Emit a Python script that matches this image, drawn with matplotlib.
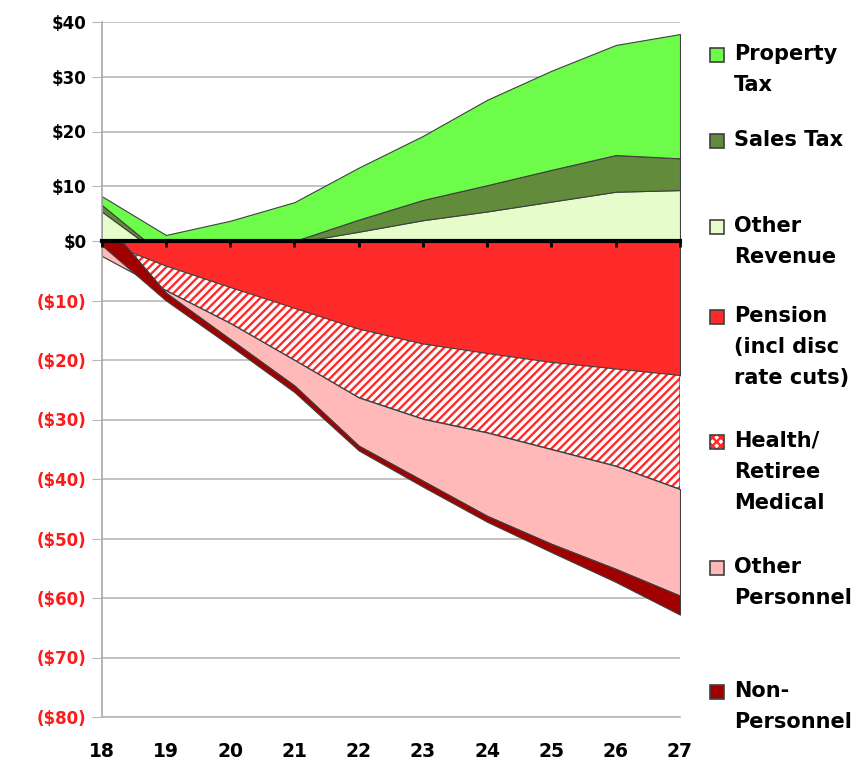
import numpy as np
import matplotlib
matplotlib.use("Agg")
import matplotlib.pyplot as plt
from matplotlib.patches import Rectangle

# annees (fiscal years)
years = [18, 19, 20, 21, 22, 23, 24, 25, 26, 27]

# revenus (stacked from 0 upward): other revenue, sales tax, property tax
other_rev = [5.4, -3.2, -3.0, -0.3, 1.7, 3.8, 5.4, 7.2, 9.0, 9.3]
sales_tax = [1.2, 0.2, 1.0, 0.3, 2.2, 3.7, 4.8, 5.8, 6.7, 5.8]
prop_tax = [1.6, 4.1, 5.7, 7.1, 9.5, 11.7, 15.6, 18.1, 20.1, 22.7]

# depenses (stacked from 0 downward)
pension = [0.0, -4.2, -7.8, -11.3, -14.8, -17.3, -18.9, -20.4, -21.5, -22.6]
health = [-2.5, -4.1, -6.0, -8.7, -11.5, -12.6, -13.3, -14.6, -16.3, -19.1]
other_pers = [6.4, -0.4, -2.7, -4.3, -8.1, -10.4, -14.0, -15.9, -17.3, -17.9]
non_pers = [-4.6, -1.3, -1.1, -1.1, -0.8, -1.0, -1.0, -1.4, -2.2, -3.2]

pos_ticks = [0, 10, 20, 30, 40]
pos_labels = ["$0", "$10", "$20", "$30", "$40"]
neg_ticks = [-10, -20, -30, -40, -50, -60, -70, -80]
neg_labels = ["($10)", "($20)", "($30)", "($40)", "($50)", "($60)", "($70)", "($80)"]

legend_labels = ["Property\nTax", "Sales Tax", "Other\nRevenue", "Pension\n(incl disc\nrate cuts)",
                 "Health/\nRetiree\nMedical", "Other\nPersonnel", "Non-\nPersonnel"]

c_prop = "#6efc4a"
c_sales = "#628c3c"
c_other = "#e6fccb"
c_pension = "#ff2a2a"
c_opers = "#ffb9b9"
c_npers = "#a00000"
edge = "#404040"
grid = "#b8b8b8"

plt.rcParams["hatch.linewidth"] = 1.7
W, H = 857, 763
fig = plt.figure(figsize=(W / 100, H / 100), dpi=100)

def fx(x):
    return x / W

def fy(y):
    return 1 - y / H

x = np.array(years, dtype=float)

# axe du haut (revenus)
ax1 = fig.add_axes([fx(101.7), fy(241), fx(680 - 101.7), (241 - 22) / H])
ax2 = fig.add_axes([fx(101.7), fy(717), fx(680 - 101.7), (717 - 241) / H])
ax1.set_zorder(3)
ax1.patch.set_alpha(0)

cum = np.zeros(len(years))
for vals, col in [(other_rev, c_other), (sales_tax, c_sales), (prop_tax, c_prop)]:
    new = cum + np.array(vals)
    ax1.fill_between(x, cum, new, facecolor=col, edgecolor=edge, linewidth=0.8)
    cum = new

ax1.set_xlim(18, 27)
ax1.set_ylim(0, 40)
ax1.set_yticks(pos_ticks)
ax1.set_yticklabels(pos_labels, fontsize=12, fontweight="bold")
ax1.set_xticks(years)
ax1.tick_params(axis="x", bottom=True, direction="out", length=4, width=2, color="black",
                labelbottom=False)
ax1.tick_params(axis="y", length=7, color=grid, pad=4)
ax1.grid(axis="y", color=grid, linewidth=1.2)
ax1.set_axisbelow(True)
for s in ["right", "top"]:
    ax1.spines[s].set_visible(False)
ax1.spines["left"].set_color("#a8a8a8")
ax1.spines["left"].set_linewidth(1.2)
ax1.spines["bottom"].set_color("black")
ax1.spines["bottom"].set_linewidth(3)

# axe du bas (depenses)
cum = np.zeros(len(years))
layers = [(pension, c_pension, None), (health, "white", "////"),
          (other_pers, c_opers, None), (non_pers, c_npers, None)]
for vals, col, hatch in layers:
    new = cum + np.array(vals)
    if hatch:
        ax2.fill_between(x, cum, new, facecolor="white", edgecolor=c_pension, hatch=hatch, linewidth=0)
        ax2.fill_between(x, cum, new, facecolor="none", edgecolor=edge, linewidth=0.8)
    else:
        ax2.fill_between(x, cum, new, facecolor=col, edgecolor=edge, linewidth=0.8)
    cum = new

ax2.set_xlim(18, 27)
ax2.set_ylim(-80, 0)
ax2.set_yticks(neg_ticks)
ax2.set_yticklabels(neg_labels, fontsize=12, fontweight="bold", color="#ff1a1a")
ax2.set_xticks(years)
ax2.set_xticklabels([str(y) for y in years], fontsize=13.5, fontweight="bold")
ax2.tick_params(axis="x", length=0, pad=18)
ax2.tick_params(axis="y", length=7, color=grid, pad=4)
ax2.grid(axis="y", color=grid, linewidth=1.2)
ax2.set_axisbelow(True)
for s in ["right", "top"]:
    ax2.spines[s].set_visible(False)
ax2.spines["left"].set_color("#a8a8a8")
ax2.spines["left"].set_linewidth(1.2)
ax2.spines["bottom"].set_color(grid)
ax2.spines["bottom"].set_linewidth(1.2)

# legende (style Excel)
leg_colors = [c_prop, c_sales, c_other, c_pension, "hatch", c_opers, c_npers]
leg_y = [55, 141, 227, 317, 442, 568, 692]
for lab, col, yy in zip(legend_labels, leg_colors, leg_y):
    r = (fx(710), fy(yy + 7), 14 / W, 14 / H)
    if col == "hatch":
        fig.patches.append(Rectangle(r[:2], r[2], r[3], transform=fig.transFigure,
                                     facecolor="white", edgecolor=c_pension, hatch="xxxx", linewidth=0))
        fig.patches.append(Rectangle(r[:2], r[2], r[3], transform=fig.transFigure,
                                     facecolor="none", edgecolor=edge, linewidth=1.2))
    else:
        fig.patches.append(Rectangle(r[:2], r[2], r[3], transform=fig.transFigure,
                                     facecolor=col, edgecolor=edge, linewidth=1.2))
    fig.text(fx(734), fy(yy - 11), lab, fontsize=15, fontweight="bold", va="top", ha="left",
             linespacing=1.68)

fig.savefig("out.png", dpi=100)
